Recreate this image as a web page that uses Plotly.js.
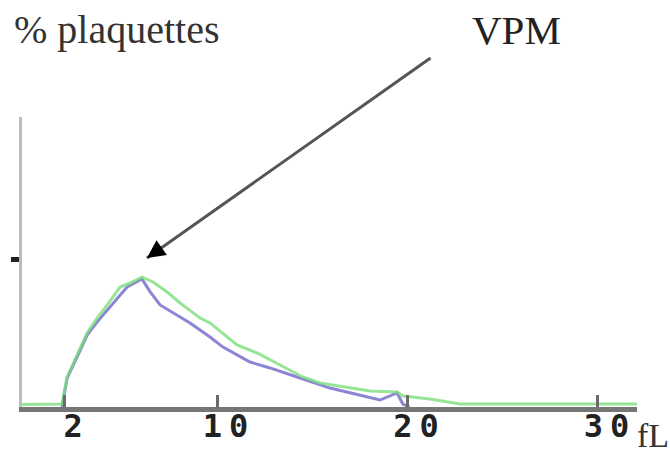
<!DOCTYPE html>
<html>
<head>
<meta charset="utf-8">
<script src="https://cdn.plot.ly/plotly-3.0.1.min.js"></script>
<style>
  html, body { margin: 0; padding: 0; background: #fff; }
  #chart { width: 670px; height: 454px; }
  .xtick text { letter-spacing: 7px; }
</style>
</head>
<body>
<div id="chart"></div>
<script>
// Platelet volume distribution (fL) — two overlaid histograms
var greenX = [-0.24, 1.76, 1.86, 2.13, 2.65, 3.18, 3.70, 4.23, 4.91, 5.43, 6.06, 6.64, 7.38, 8.06, 9.11, 9.63, 11.05, 12.10, 13.31, 14.51, 15.41, 16.98, 18.03, 19.45, 19.76, 21.18, 22.76, 32.05];
var greenY = [0.017, 0.017, 0.02, 0.203, 0.351, 0.50, 0.601, 0.689, 0.811, 0.838, 0.878, 0.845, 0.777, 0.703, 0.601, 0.568, 0.419, 0.365, 0.284, 0.203, 0.162, 0.128, 0.108, 0.101, 0.074, 0.054, 0.02, 0.02];

var purpleX = [1.86, 2.13, 2.65, 3.18, 3.70, 4.54, 5.28, 6.06, 6.48, 7.01, 7.69, 8.58, 9.63, 10.31, 11.73, 12.78, 14.20, 15.93, 18.56, 19.45, 19.76, 20.1];
var purpleY = [0, 0.196, 0.338, 0.486, 0.574, 0.703, 0.811, 0.865, 0.78, 0.69, 0.635, 0.568, 0.473, 0.405, 0.304, 0.264, 0.203, 0.128, 0.047, 0.095, 0.02, 0];

var xTickVals = [2, 10, 20, 30];
var xTickText = ['2', '10', '20', '30'];
var yTickVals = [1];
var yTickText = [''];

var yLabel = '% plaquettes';
var arrowLabel = 'VPM';
var xUnit = 'fL';

var W = 670, H = 454;
var M = {l: 22, r: 33, t: 117, b: 47};
function px(x) { return (x - M.l) / (W - M.l - M.r); }
function py(y) { return (H - M.b - y) / (H - M.t - M.b); }

var serif = 'Liberation Serif, Times New Roman, serif';

var traces = [
  {x: purpleX, y: purpleY, type: 'scatter', mode: 'lines',
   line: {color: 'rgb(120,110,205)', width: 3}, opacity: 0.85, hoverinfo: 'skip'},
  {x: greenX, y: greenY, type: 'scatter', mode: 'lines',
   line: {color: 'rgb(120,222,120)', width: 3}, opacity: 0.78, hoverinfo: 'skip'}
];

var layout = {
  width: W, height: H,
  margin: M,
  paper_bgcolor: '#fff', plot_bgcolor: '#fff',
  showlegend: false,
  xaxis: {
    range: [-0.24, 32.05],
    showgrid: false, zeroline: false,
    showline: true, linecolor: '#767676', linewidth: 5,
    tickmode: 'array', tickvals: xTickVals, ticktext: xTickText,
    ticks: 'inside', ticklen: 12, tickwidth: 3, tickcolor: '#6a6a6a',
    tickfont: {family: 'DejaVu Sans Mono', size: 32, color: '#222', weight: 'bold'},
    ticklabelshift: 12,
    ticklabelstandoff: -13
  },
  yaxis: {
    range: [0, 1.96],
    showgrid: false, zeroline: false,
    showline: true, linecolor: '#bdbdbd', linewidth: 3,
    tickmode: 'array', tickvals: yTickVals, ticktext: yTickText,
    ticks: 'outside', ticklen: 8, tickwidth: 5, tickcolor: '#222'
  },
  annotations: [
    {xref: 'paper', yref: 'paper', x: px(12), y: py(5), xanchor: 'left', yanchor: 'top',
     text: yLabel, showarrow: false, font: {family: serif, size: 40, color: '#333'}},
    {xref: 'paper', yref: 'paper', x: px(470), y: py(5), xanchor: 'left', yanchor: 'top',
     text: arrowLabel, showarrow: false, font: {family: serif, size: 41, color: '#222'}},
    {xref: 'paper', yref: 'paper', x: px(635), y: py(415), xanchor: 'left', yanchor: 'top',
     text: xUnit, showarrow: false, font: {family: serif, size: 34, color: '#333'}},
    {xref: 'paper', yref: 'paper', x: px(147), y: py(258), text: '', showarrow: true,
     ax: 285, ay: -201, arrowhead: 0, arrowwidth: 3, arrowcolor: '#555'},
    {xref: 'paper', yref: 'paper', x: px(147), y: py(258), text: '', showarrow: true,
     ax: 12, ay: -8.5, arrowhead: 2, arrowsize: 1.2, arrowwidth: 3, arrowcolor: '#000'}
  ]
};

Plotly.newPlot('chart', traces, layout, {staticPlot: true, displayModeBar: false});
</script>
</body>
</html>
